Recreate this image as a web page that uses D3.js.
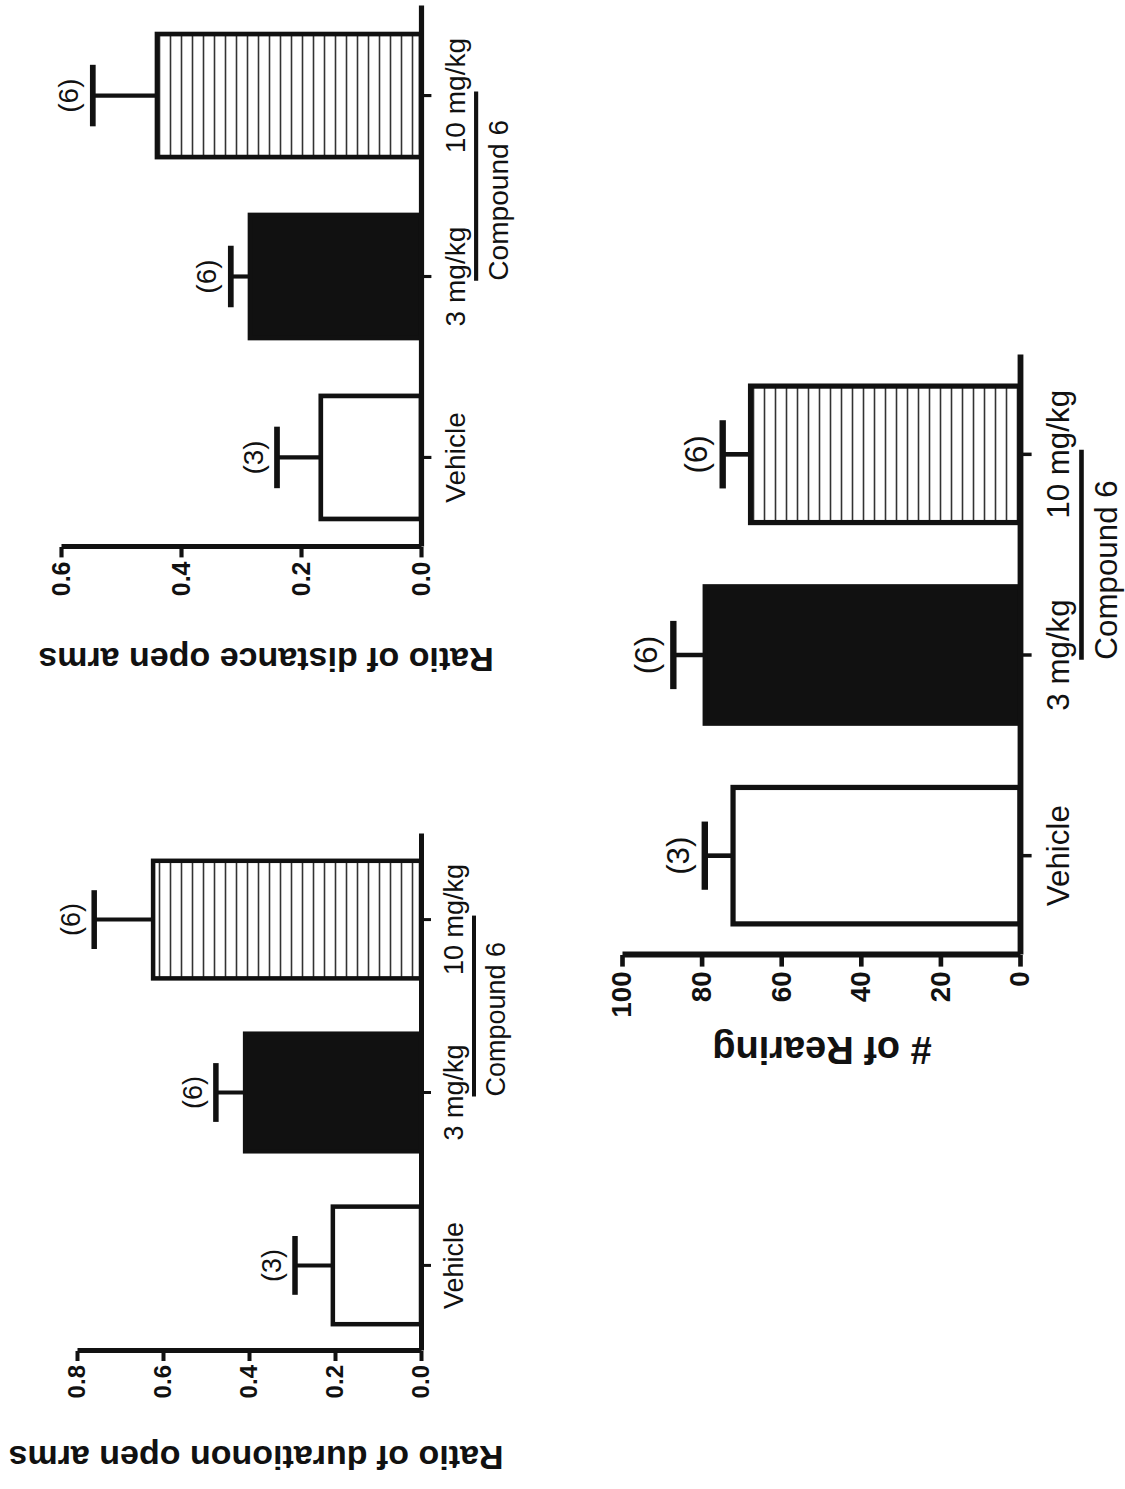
<!DOCTYPE html>
<html>
<head>
<meta charset="utf-8">
<script src="https://cdn.jsdelivr.net/npm/d3@7"></script>
<style>
  body { margin: 0; background: #fff; }
  svg text { font-family: "Liberation Sans", Arial, Helvetica, sans-serif; fill: #111; }
</style>
</head>
<body>
<svg id="graf" width="1125" height="1489"></svg>
<script>
// Datos
const categories = ["Vehicle", "3 mg/kg", "10 mg/kg"]
const groupN = ["(3)", "(6)", "(6)"]
const compoundLabel = "Compound 6"

const durationMean = [0.205, 0.409, 0.623]
const durationSem = [0.088, 0.068, 0.137]
const durationTicks = [0, 0.2, 0.4, 0.6, 0.8]

const distanceMean = [0.167, 0.285, 0.44]
const distanceSem = [0.073, 0.032, 0.107]
const distanceTicks = [0, 0.2, 0.4, 0.6]

const rearingMean = [72.1, 79.1, 67.7]
const rearingSem = [7.1, 8.0, 7.0]
const rearingTicks = [0, 20, 40, 60, 80, 100]

// Paneles (coordenadas de la pagina sin rotar)
const panels = [
  { mean: durationMean, sem: durationSem, ticks: durationTicks, fmt: ".1f",
    title: "Ratio of durationon open arms",
    left: 138, right: 655, base: 421, top: 77, titleX: 31, titleY: 256, titleSize: 34, s: 1 },
  { mean: distanceMean, sem: distanceSem, ticks: distanceTicks, fmt: ".1f",
    title: "Ratio of distance open arms",
    left: 942, right: 1483, base: 421, top: 61, titleX: 829, titleY: 266, titleSize: 34, s: 1.04 },
  { mean: rearingMean, sem: rearingSem, ticks: rearingTicks, fmt: "d",
    title: "# of Rearing",
    left: 534, right: 1134, base: 1020, top: 622, titleX: 439, titleY: 822, titleSize: 38, s: 1.16 }
]

const ink = "#111"
const fills = ["#fff", ink, "url(#stripes)"]

const svg = d3.select("#graf")

const defs = svg.append("defs")
const pat = defs.append("pattern")
  .attr("id", "stripes")
  .attr("patternUnits", "userSpaceOnUse")
  .attr("width", 10)
  .attr("height", 11)
pat.append("rect").attr("width", 10).attr("height", 11).attr("fill", "#fff")
pat.append("line")
  .attr("x1", 0).attr("x2", 10)
  .attr("y1", 5.5).attr("y2", 5.5)
  .attr("stroke", "#333")
  .attr("stroke-width", 1.6)

// toda la figura esta girada 90 grados
const page = svg.append("g").attr("transform", "translate(0,1489) rotate(-90)")

panels.forEach((p) => {
  const s = p.s
  const g = page.append("g")

  const x = d3.scaleBand()
    .domain(categories)
    .range([p.left, p.right])
    .paddingInner(0.32)
    .paddingOuter(0.155)

  const y = d3.scaleLinear()
    .domain([0, d3.max(p.ticks)])
    .range([p.base, p.top])

  const bw = x.bandwidth()
  const rows = categories.map((c, i) => ({ cat: c, mean: p.mean[i], sem: p.sem[i], n: groupN[i], fill: fills[i] }))

  // Barras
  g.selectAll(".bar")
    .data(rows)
    .join("rect")
    .attr("class", "bar")
    .attr("x", (d) => x(d.cat))
    .attr("width", bw)
    .attr("y", (d) => y(d.mean))
    .attr("height", (d) => y(0) - y(d.mean))
    .attr("fill", (d) => d.fill)
    .attr("stroke", ink)
    .attr("stroke-width", 4.5 * s)

  // Barras de error
  g.selectAll(".stem")
    .data(rows)
    .join("line")
    .attr("x1", (d) => x(d.cat) + bw / 2)
    .attr("x2", (d) => x(d.cat) + bw / 2)
    .attr("y1", (d) => y(d.mean))
    .attr("y2", (d) => y(d.mean + d.sem))
    .attr("stroke", ink)
    .attr("stroke-width", 4 * s)

  g.selectAll(".cap")
    .data(rows)
    .join("line")
    .attr("x1", (d) => x(d.cat) + bw / 4)
    .attr("x2", (d) => x(d.cat) + bw * 3 / 4)
    .attr("y1", (d) => y(d.mean + d.sem))
    .attr("y2", (d) => y(d.mean + d.sem))
    .attr("stroke", ink)
    .attr("stroke-width", 5.5 * s)

  g.selectAll(".nlab")
    .data(rows)
    .join("text")
    .attr("x", (d) => x(d.cat) + bw / 2)
    .attr("y", (d) => y(d.mean + d.sem) - 23 * s)
    .attr("text-anchor", "middle")
    .attr("dominant-baseline", "central")
    .style("font-size", 27 * s + "px")
    .text((d) => d.n)

  // Ejes
  const yAxis = d3.axisLeft(y)
    .tickValues(p.ticks)
    .tickFormat(d3.format(p.fmt))
    .tickSize(10 * s)
    .tickSizeOuter(0)
    .tickPadding(4 * s)

  const yg = g.append("g")
    .attr("transform", `translate(${p.left},0)`)
    .call(yAxis)
  yg.attr("font-family", null).attr("font-size", null)
  yg.select(".domain").attr("stroke", ink).attr("stroke-width", 5 * s)
  yg.selectAll(".tick line").attr("stroke", ink).attr("stroke-width", 4 * s)
  yg.selectAll(".tick text")
    .attr("fill", ink)
    .style("font-size", 24 * s + "px")
    .style("font-weight", "bold")

  const xAxis = d3.axisBottom(x).tickSize(10 * s).tickSizeOuter(0)

  const xg = g.append("g")
    .attr("transform", `translate(0,${p.base})`)
    .call(xAxis)
  xg.attr("font-family", null).attr("font-size", null)
  xg.select(".domain").attr("stroke", ink).attr("stroke-width", 5 * s)
  xg.selectAll(".tick line").attr("stroke", ink).attr("stroke-width", 3 * s)
  xg.selectAll(".tick text")
    .attr("fill", ink)
    .attr("y", 42 * s)
    .attr("dy", 0)
    .style("font-size", 27 * s + "px")

  // Compound 6
  const c1 = x(categories[1]) + bw / 2 - 4 * s
  const c2 = x(categories[2]) + bw / 2 + 4 * s
  g.append("line")
    .attr("x1", c1).attr("x2", c2)
    .attr("y1", p.base + 53 * s).attr("y2", p.base + 53 * s)
    .attr("stroke", ink)
    .attr("stroke-width", 4 * s)
  g.append("text")
    .attr("x", c1)
    .attr("y", p.base + 84 * s)
    .style("font-size", 27 * s + "px")
    .text(compoundLabel)

  // Titulo del eje
  g.append("text")
    .attr("transform", `translate(${p.titleX},${p.titleY}) rotate(-90)`)
    .attr("text-anchor", "middle")
    .attr("dominant-baseline", "central")
    .style("font-size", p.titleSize + "px")
    .style("font-weight", "bold")
    .text(p.title)
})
</script>
</body>
</html>
